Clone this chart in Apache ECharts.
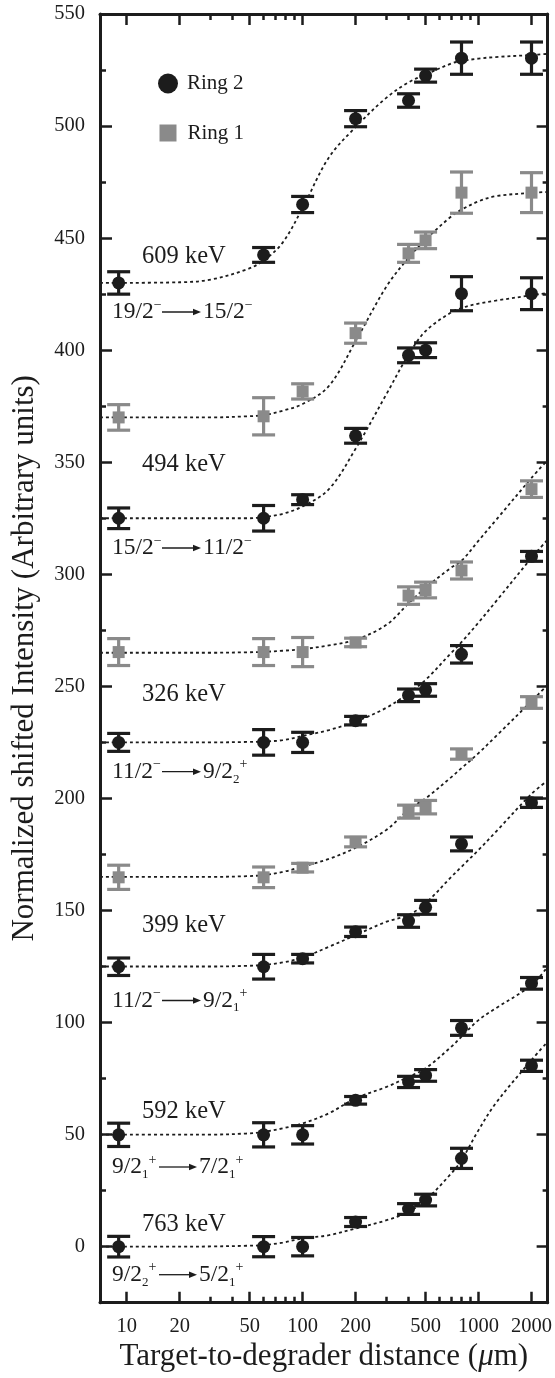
<!DOCTYPE html>
<html><head><meta charset="utf-8">
<script src="https://cdn.jsdelivr.net/npm/echarts@6/dist/echarts.min.js"></script>
<style>html,body{margin:0;padding:0;background:#fff}#c{width:555px;height:1378px}</style>
</head><body><div id="c"></div>
<script>
// ---- data ----
const distances = [9, 60, 100, 200, 400, 500, 800, 2000];

const r2_609 = [430, 442.5, 465, 503.3, 511.4, 522.5, 530.3, 530.3];
const r2_609_err = [5, 3.3, 3.6, 3.6, 3, 2.9, 7.2, 7.2];
const r1_609 = [370, 370.5, 381.6, 407.6, 443.2, 449, 470.3, 470.3];
const r1_609_err = [5.7, 8.3, 3.4, 4.5, 4, 3.7, 9.2, 8.9];
const r2_494 = [325, 325, 333.3, 361.8, 397.7, 400, 425.2, 425.2];
const r2_494_err = [4.6, 5.7, 2.2, 3.3, 3.3, 3.3, 7.6, 7.1];
const r1_326 = [265.3, 265.3, 265.3, 269.6, 290.5, 293, 301.7, 338];
const r1_326_err = [6, 6, 6.5, 1.9, 3.9, 3.5, 3.8, 3.7];
const r2_326 = [225, 225, 225, 234.7, 246, 248.4, 264.3, 308];
const r2_326_err = [4, 5.7, 4.5, 1.9, 2.8, 2.8, 3.9, 2.2];
const r1_399 = [164.8, 164.8, 169.1, 180.6, 194.1, 196.1, 219.8, 242.8];
const r1_399_err = [5.4, 4.6, 1.9, 2.2, 2.9, 3, 2.3, 2.6];
const r2_399 = [124.9, 124.9, 128.5, 140.5, 145.3, 151.4, 179.7, 198.1];
const r2_399_err = [3.9, 5.5, 1.9, 2.1, 2.8, 3.1, 3.1, 2.1];
const r2_592 = [49.9, 49.9, 49.9, 65.3, 73.5, 76.4, 97.6, 117.5];
const r2_592_err = [5.2, 5.4, 4.1, 1.7, 2.5, 2.6, 3.3, 2.6];
const r2_763 = [0, 0, 0, 11, 16.8, 20.8, 39.4, 80.7];
const r2_763_err = [4.6, 4.5, 4.1, 2, 2.4, 2.6, 4.5, 2.5];

// fitted (dotted) curves, read at these distances
const fitX = [7.05, 20, 30, 48, 60, 77, 100, 141, 200, 300, 400, 500, 700, 800, 1000, 1250, 2000, 2470];
const fit_r2_609 = [430, 430.3, 431.5, 436, 440, 448, 463.5, 486, 499.5, 512.7, 519.5, 523, 527.9, 529, 530.1, 530.8, 531.7, 532.2];
const fit_r1_609 = [370, 370, 370, 370.5, 371, 373, 376, 384, 404, 428.5, 441.2, 449.3, 459.7, 462.7, 466.4, 468.7, 470.2, 470.6];
const fit_r2_494 = [325, 325, 325, 325, 325.5, 327, 330.3, 338, 356, 380.5, 398, 408.5, 416.9, 418.8, 420.8, 422.1, 424.5, 425.5];
const fit_r1_326 = [265, 265, 265, 265.2, 265.4, 265.9, 266.6, 268.3, 270.8, 277.5, 287, 294, 303, 306, 315, 324, 343, 351];
const fit_r2_326 = [225, 225, 225, 225.2, 225.4, 226, 227.9, 230.5, 234.3, 240.5, 247, 252.9, 265, 269.7, 278.5, 287.7, 307.3, 315.5];
const fit_r1_399 = [165, 165, 165, 165.3, 165.8, 167.2, 169.6, 173, 178, 186, 195, 200, 209.5, 213.5, 220.2, 227.6, 243.4, 250.7];
const fit_r2_399 = [125, 125, 125, 125.3, 125.7, 126.8, 129, 133.8, 139, 145, 148, 153.2, 165, 169.5, 177, 185, 202, 208];
const fit_r2_592 = [50, 50, 50, 50.5, 51.2, 52.8, 55, 59.5, 66.2, 71.3, 75.8, 79.6, 89.2, 93.7, 101.1, 106.3, 116.7, 124.9];
const fit_r2_763 = [0, 0, 0.1, 0.4, 0.7, 1.8, 3.7, 5.1, 8.1, 11.8, 15.5, 20.8, 32.7, 38.6, 52, 63.9, 83.3, 91.4];

// axis ticks / labels
const xTickLabels = [10, 20, 50, 100, 200, 500, 1000, 2000];
const xMinorTicks = [30, 40, 60, 70, 80, 90, 300, 400, 600, 700, 800, 900];
const yTickLabels = [0, 50, 100, 150, 200, 250, 300, 350, 400, 450, 500, 550];
const yMinorTicks = [25, 75, 125, 175, 225, 275, 325, 375, 425, 475, 525];

// annotation texts
const energyLabels = ['609 keV', '494 keV', '326 keV', '399 keV', '592 keV', '763 keV'];
const transInitial = ['{n|19/2}{sup|−}', '{n|15/2}{sup|−}', '{n|11/2}{sup|−}', '{n|11/2}{sup|−}', '{n|9/2}{sub|1}{sup|+}', '{n|9/2}{sub|2}{sup|+}'];
const transFinal = ['{n|15/2}{sup|−}', '{n|11/2}{sup|−}', '{n|9/2}{sub|2}{sup|+}', '{n|9/2}{sub|1}{sup|+}', '{n|7/2}{sub|1}{sup|+}', '{n|5/2}{sub|1}{sup|+}'];

// ---- chart ----
const ink = '#1c1c1c';
const grey = '#8a8a8a';
const serif = '"Liberation Serif", "Times New Roman", serif';

const groups = [
  {y: r2_609, e: r2_609_err, fit: fit_r2_609, ring: 2},
  {y: r1_609, e: r1_609_err, fit: fit_r1_609, ring: 1},
  {y: r2_494, e: r2_494_err, fit: fit_r2_494, ring: 2},
  {y: r1_326, e: r1_326_err, fit: fit_r1_326, ring: 1},
  {y: r2_326, e: r2_326_err, fit: fit_r2_326, ring: 2},
  {y: r1_399, e: r1_399_err, fit: fit_r1_399, ring: 1},
  {y: r2_399, e: r2_399_err, fit: fit_r2_399, ring: 2},
  {y: r2_592, e: r2_592_err, fit: fit_r2_592, ring: 2},
  {y: r2_763, e: r2_763_err, fit: fit_r2_763, ring: 2}
];

const series = [];
groups.forEach(g => {
  series.push({
    type: 'line', name: 'fit', silent: true, z: 1,
    data: fitX.map((x, i) => [x, g.fit[i]]),
    smooth: 0.35, showSymbol: false,
    lineStyle: {color: ink, width: 1.8, type: [3, 3]}
  });
});
groups.forEach(g => {
  const col = g.ring === 2 ? ink : grey;
  series.push({
    type: 'custom', name: 'err', silent: true, z: 2,
    data: distances.map((x, i) => [x, g.y[i] - g.e[i], g.y[i] + g.e[i]]),
    renderItem: function (params, api) {
      const x = api.value(0);
      const lo = api.coord([x, api.value(1)]);
      const hi = api.coord([x, api.value(2)]);
      const hw = 11.5;
      const st = {stroke: col, lineWidth: 3.2};
      return {type: 'group', children: [
        {type: 'line', shape: {x1: hi[0], y1: hi[1], x2: lo[0], y2: lo[1]}, style: st},
        {type: 'line', shape: {x1: hi[0] - hw, y1: hi[1], x2: hi[0] + hw, y2: hi[1]}, style: st},
        {type: 'line', shape: {x1: lo[0] - hw, y1: lo[1], x2: lo[0] + hw, y2: lo[1]}, style: st}
      ]};
    }
  });
});
groups.forEach(g => {
  series.push({
    type: 'scatter', name: g.ring === 2 ? 'Ring 2' : 'Ring 1', z: 3,
    symbol: g.ring === 2 ? 'circle' : 'rect',
    symbolSize: g.ring === 2 ? 13 : 12,
    itemStyle: {color: g.ring === 2 ? ink : grey, opacity: 1},
    data: distances.map((x, i) => [x, g.y[i]])
  });
});

const tickStyle = {color: ink, width: 2.5};
const xBase = {type: 'log', logBase: 10, min: 7.05, max: 2470, splitLine: {show: false},
  axisLine: {show: true, onZero: false, lineStyle: {color: ink, width: 3}}};
const yBase = {type: 'value', min: -25, max: 550, splitLine: {show: false},
  axisLine: {show: true, onZero: false, lineStyle: {color: ink, width: 3}}};
const noLine = {show: false, onZero: false};

const xAxis = [
  Object.assign({}, xBase, {position: 'bottom',
    name: 'Target-to-degrader distance ({i|μ}m)', nameLocation: 'middle', nameGap: 39,
    nameTextStyle: {fontFamily: serif, fontSize: 31, color: ink,
      rich: {i: {fontFamily: serif, fontSize: 31, fontStyle: 'italic', color: ink}}},
    axisLabel: {customValues: xTickLabels, fontFamily: serif, fontSize: 20.5, color: ink, margin: 13,
      formatter: v => String(v)},
    axisTick: {customValues: xTickLabels, inside: true, length: 11, lineStyle: tickStyle}}),
  Object.assign({}, xBase, {position: 'bottom', axisLine: noLine, axisLabel: {show: false},
    axisTick: {customValues: xMinorTicks, inside: true, length: 6, lineStyle: tickStyle}}),
  Object.assign({}, xBase, {position: 'top', axisLabel: {show: false},
    axisTick: {customValues: xTickLabels, inside: true, length: 11, lineStyle: tickStyle}}),
  Object.assign({}, xBase, {position: 'top', axisLine: noLine, axisLabel: {show: false},
    axisTick: {customValues: xMinorTicks, inside: true, length: 6, lineStyle: tickStyle}})
];
const yAxis = [
  Object.assign({}, yBase, {position: 'left',
    name: 'Normalized shifted Intensity (Arbitrary units)', nameLocation: 'middle', nameGap: 60,
    nameTextStyle: {fontFamily: serif, fontSize: 31, color: ink},
    axisLabel: {customValues: yTickLabels, fontFamily: serif, fontSize: 20.5, color: ink, margin: 15},
    axisTick: {customValues: yTickLabels, inside: true, length: 12, lineStyle: tickStyle}}),
  Object.assign({}, yBase, {position: 'left', axisLine: noLine, axisLabel: {show: false},
    axisTick: {customValues: yMinorTicks, inside: true, length: 6, lineStyle: tickStyle}}),
  Object.assign({}, yBase, {position: 'right', axisLabel: {show: false},
    axisTick: {customValues: yTickLabels, inside: true, length: 11, lineStyle: tickStyle}}),
  Object.assign({}, yBase, {position: 'right', axisLine: noLine, axisLabel: {show: false},
    axisTick: {customValues: yMinorTicks, inside: true, length: 5, lineStyle: tickStyle}})
];

// annotation layout (pixels)
const energyY = [256.5, 465, 695, 925.3, 1112, 1224.7];
const transY = [312, 548, 771.7, 1000.5, 1167, 1274.7];
const arrowX = [[162, 201], [162, 201], [162, 201], [162, 201], [159, 197], [159, 197]];
const richStyle = {
  n: {fontFamily: serif, fontSize: 23.5, fill: ink, lineHeight: 28},
  sup: {fontFamily: serif, fontSize: 14, fill: ink, lineHeight: 12, verticalAlign: 'top'},
  sub: {fontFamily: serif, fontSize: 13, fill: ink, lineHeight: 12, verticalAlign: 'bottom'}
};
const graphic = [];
energyLabels.forEach((t, i) => {
  graphic.push({type: 'text', x: 142, y: energyY[i], z: 10,
    style: {text: t, fontFamily: serif, fontSize: 24.5, fill: ink, align: 'left', verticalAlign: 'middle'}});
});
transInitial.forEach((t, i) => {
  const y = transY[i];
  const ax = arrowX[i];
  graphic.push({type: 'text', x: 112, y: y, z: 10,
    style: {text: t, rich: richStyle, align: 'left', verticalAlign: 'middle'}});
  graphic.push({type: 'line', z: 10, shape: {x1: ax[0], y1: y, x2: ax[1] - 6, y2: y},
    style: {stroke: ink, lineWidth: 1.3}});
  graphic.push({type: 'polygon', z: 10, shape: {points: [[ax[1] - 8, y - 3.2], [ax[1], y], [ax[1] - 8, y + 3.2]]},
    style: {fill: ink}});
  graphic.push({type: 'text', x: ax[1] + 2, y: y, z: 10,
    style: {text: transFinal[i], rich: richStyle, align: 'left', verticalAlign: 'middle'}});
});

const chart = echarts.init(document.getElementById('c'), null, {renderer: 'canvas'});
chart.setOption({
  animation: false,
  backgroundColor: '#fff',
  grid: {left: 100, right: 5.3, top: 14, bottom: 75.3, containLabel: false},
  legend: [
    {data: [{name: 'Ring 2', icon: 'circle'}], left: 153, top: 68, itemWidth: 20, itemHeight: 20,
      selectedMode: false, textStyle: {fontFamily: serif, fontSize: 21, color: ink, padding: [0, 0, 0, 4]}},
    {data: [{name: 'Ring 1', icon: 'rect'}], left: 154.5, top: 117.5, itemWidth: 17, itemHeight: 17,
      selectedMode: false, textStyle: {fontFamily: serif, fontSize: 21, color: ink, padding: [0, 0, 0, 6]}}
  ],
  xAxis: xAxis,
  yAxis: yAxis,
  series: series,
  graphic: graphic
});
</script></body></html>
